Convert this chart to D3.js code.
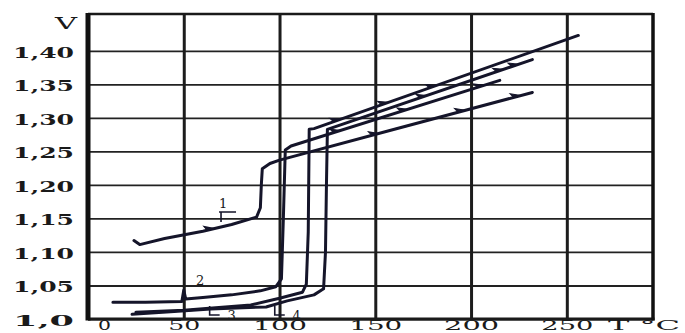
<!DOCTYPE html>
<html><head><meta charset="utf-8">
<script src="https://cdn.jsdelivr.net/npm/d3@7"></script>
<style>html,body{margin:0;padding:0;background:#fff;overflow:hidden}</style>
</head><body><svg id="c" width="685" height="333"></svg>
<script>
// ---- data ----
const xTicks = [0, 50, 100, 150, 200, 250];
const xTickLabels = ["0", "50", "100", "150", "200", "250"];
const yTicks = [1.00, 1.05, 1.10, 1.15, 1.20, 1.25, 1.30, 1.35, 1.40];
const yTickLabels = ["1,0", "1,05", "1,10", "1,15", "1,20", "1,25", "1,30", "1,35", "1,40"];
const xUnit = "T °C";
const yUnit = "V";

// curve series: [T (°C), V]
const curve1 = [[24,1.117],[27,1.111],[40,1.120],[60,1.131],[75,1.141],[88,1.152],[90,1.166],[90.5,1.200],[91,1.224],[95,1.232],[100,1.237],[160,1.283],[232,1.338]];
const curve2 = [[13,1.025],[30,1.025],[49,1.026],[50,1.043],[51,1.030],[60,1.032],[75,1.036],[90,1.042],[98,1.048],[101,1.060],[102,1.150],[103,1.252],[106,1.258],[215,1.356]];
const curve3 = [[25,1.010],[50,1.013],[85,1.021],[100,1.031],[112,1.040],[114,1.052],[115,1.130],[115.5,1.283],[118,1.284],[256,1.423]];
const curve4 = [[23,1.007],[45,1.011],[64,1.015],[93,1.018],[104,1.027],[118,1.036],[123,1.045],[124,1.100],[124.5,1.200],[125,1.283],[232,1.387]];
const curveNames = ["1", "2", "3", "4"];
// label anchors [T, V] for curve names
const labelT = [70.5, 58.5, 75, 109];
const labelV = [1.173, 1.058, 1.006, 1.006];
// arrow markers: [curve index, T]
const markerCurve = [0, 0, 0, 0, 1, 1, 1, 2, 2, 2, 3, 3, 3];
const markerT =     [64, 150, 195, 224, 130, 165, 205, 130, 155, 180, 175, 215, 223];

// ---- drawing ----
const curves = [curve1, curve2, curve3, curve4];
const svg = d3.select("#c");
const W = 685, H = 333;
const pL = 88, pR = 653, pT = 14, pB = 319;
const x = d3.scaleLinear().domain([0, 295]).range([pL, pR]);
const y = d3.scaleLinear().domain([1.0, 1.455]).range([pB, pT]);
const ink = "#15152a";
const font = "'DejaVu Serif', 'Liberation Serif', serif";

svg.append("rect").attr("width", W).attr("height", H).attr("fill", "#fff");

// horizontal grid
const gy = svg.append("g").attr("transform", `translate(${pL},0)`)
  .call(d3.axisLeft(y).tickValues(yTicks).tickSize(-(pR - pL)).tickPadding(13)
    .tickFormat((d, i) => yTickLabels[i]));
gy.select(".domain").remove();
gy.selectAll(".tick line").attr("stroke", "#222").attr("stroke-width", 1.8);
gy.selectAll(".tick text")
  .attr("x", -75).attr("text-anchor", "start").attr("dy", "0.42em")
  .attr("textLength", 61).attr("lengthAdjust", "spacingAndGlyphs")
  .attr("font-family", font).attr("font-size", 15).attr("font-weight", "bold").attr("fill", "#1a1a1a");

// vertical grid
const gx = svg.append("g").attr("transform", `translate(0,${pB})`)
  .call(d3.axisBottom(x).tickValues(xTicks).tickSize(-(pB - pT)).tickPadding(4)
    .tickFormat((d, i) => xTickLabels[i]));
gx.select(".domain").remove();
gx.selectAll(".tick line").attr("stroke", "#1c1c1c").attr("stroke-width", 3);
gx.selectAll(".tick text")
  .attr("y", 10.8).attr("dy", 0)
  .attr("dx", (d, i) => i === 0 ? 16 : 0)
  .attr("textLength", (d, i) => [13, 32, 54, 53, 55, 52][i])
  .attr("lengthAdjust", "spacingAndGlyphs")
  .attr("font-family", font).attr("font-size", 12.8).attr("fill", "#1a1a1a");

// frame
svg.append("line").attr("x1", pL).attr("x2", pR).attr("y1", pT).attr("y2", pT)
  .attr("stroke", "#1a1a1a").attr("stroke-width", 2.5);
svg.append("line").attr("x1", pL).attr("x2", pR + 1.5).attr("y1", pB).attr("y2", pB)
  .attr("stroke", "#1a1a1a").attr("stroke-width", 3);
svg.append("line").attr("x1", pL).attr("x2", pL).attr("y1", pT - 1).attr("y2", pB + 1.5)
  .attr("stroke", "#111").attr("stroke-width", 5);
svg.append("line").attr("x1", pR).attr("x2", pR).attr("y1", pT - 1).attr("y2", pB + 1.5)
  .attr("stroke", "#111").attr("stroke-width", 3.5);

// unit labels
svg.append("text").attr("x", 66).attr("y", 29).attr("text-anchor", "middle")
  .attr("font-family", font).attr("font-size", 16).attr("fill", "#1a1a1a")
  .attr("textLength", 22).attr("lengthAdjust", "spacingAndGlyphs").text(yUnit);
svg.append("text").attr("x", 608).attr("y", 329.8)
  .attr("font-family", font).attr("font-size", 12.8).attr("fill", "#1a1a1a")
  .attr("textLength", 72).attr("lengthAdjust", "spacingAndGlyphs").text(xUnit);

// curves
const line = d3.line().x(d => x(d[0])).y(d => y(d[1]));
svg.append("g").selectAll("path").data(curves).join("path")
  .attr("d", line).attr("fill", "none").attr("stroke", ink)
  .attr("stroke-width", 3).attr("stroke-linejoin", "round").attr("stroke-linecap", "round");

// arrow markers placed on curves
function pointAt(c, t) {
  for (let i = c.length - 2; i >= 0; i--) {
    const a = c[i], b = c[i + 1];
    if (t >= a[0] && t <= b[0] && b[0] > a[0]) {
      const f = (t - a[0]) / (b[0] - a[0]);
      const v = a[1] + f * (b[1] - a[1]);
      const ang = Math.atan2(y(b[1]) - y(a[1]), x(b[0]) - x(a[0])) * 180 / Math.PI;
      return [x(t), y(v), ang];
    }
  }
  return null;
}
const mk = markerT.map((t, i) => pointAt(curves[markerCurve[i]], t)).filter(Boolean);
svg.append("g").selectAll("path").data(mk).join("path")
  .attr("transform", d => `translate(${d[0]},${d[1]}) rotate(${d[2]})`)
  .attr("d", "M4,0 L-6,-4.5 L-3.5,0 Z").attr("fill", ink).attr("stroke", ink).attr("stroke-width", 1);

// curve name labels with small leaders
const lg = svg.append("g");
curveNames.forEach((n, i) => {
  const lx = x(labelT[i]), ly = y(labelV[i]);
  lg.append("text").attr("x", lx).attr("y", ly + 5).attr("text-anchor", "middle")
    .attr("font-family", font).attr("font-size", 13).attr("fill", "#1a1a1a").text(n);
});
// leader for "1"
{
  const lx = x(labelT[0]), ly = y(labelV[0]);
  lg.append("path").attr("d", `M${lx - 4},${ly + 9} H${lx + 13} M${lx - 2},${ly + 9} V${ly + 19}`)
    .attr("stroke", ink).attr("stroke-width", 1.6).attr("fill", "none");
}
// leaders for "3" and "4"
[2, 3].forEach(i => {
  const lx = x(labelT[i]), ly = y(labelV[i]);
  lg.append("path").attr("d", `M${lx - 22},${ly - 9} V${ly} H${lx - 12}`)
    .attr("stroke", ink).attr("stroke-width", 1.6).attr("fill", "none");
});
</script></body></html>
